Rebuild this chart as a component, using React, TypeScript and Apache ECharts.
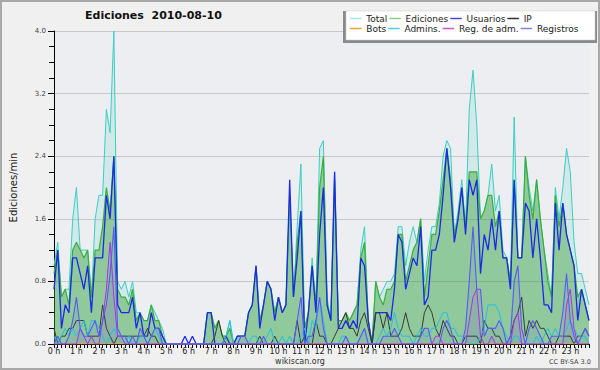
import React, { useEffect, useRef } from 'react';
import * as echarts from 'echarts';

// 10-minute buckets (index 0 = 0:00, 143 = 23:50), values in edits/min
const hourLabels = ['0 h','1 h','2 h','3 h','4 h','5 h','6 h','7 h','8 h','9 h','10 h','11 h','12 h','13 h','14 h','15 h','16 h','17 h','18 h','19 h','20 h','21 h','22 h','23 h'];
const yTickValues = [0, 0.8, 1.6, 2.4, 3.2, 4.0];

const total = [
  1.0,1.3,0.6,0.7,0.7,1.6,2.0,1.2,1.2,1.2,0.6,1.6,
  1.9,1.9,3.0,2.7,4.0,0.8,0.7,0.8,0.6,0.8,0.4,0.4,
  0.3,0.3,0.5,0.4,0.3,0.2,0,0,0,0,0,0,
  0,0,0,0,0,0.4,0.4,0.2,0.3,0.1,0.1,0.3,
  0,0.1,0.1,0.1,0.4,0.5,1.0,0.3,0.5,0.8,0.7,0.4,
  0.6,0.4,0.5,1.9,0.6,1.5,2.3,0.2,0.4,1.1,0.5,2.5,
  2.6,0.6,0.3,2.2,0.3,0.3,0.4,0.3,0.4,0.5,1.2,1.5,
  0.3,0,0.8,0.6,0.7,0.8,0.8,0.9,1.5,1.5,1.0,1.3,
  1.5,1.3,1.6,0.8,1.2,1.5,1.5,1.8,2.4,2.6,2.5,1.4,
  1.7,2.1,1.5,3.0,3.5,2.8,1.6,1.7,1.9,2.3,1.7,1.9,
  1.2,1.1,0.8,2.9,1.1,1.1,2.4,2.0,1.7,2.1,1.6,1.2,
  0.9,0.6,2.0,1.6,2.0,2.5,2.2,1.3,0.9,0.9,0.7,0.5,
];
const ediciones = [
  0.9,1.2,0.6,0.7,0.5,1.2,1.3,1.2,1.1,1.2,0.6,1.2,
  1.2,1.5,2.0,1.7,2.4,0.7,0.6,0.6,0.5,0.7,0.3,0.4,
  0.3,0.3,0.5,0.3,0.3,0.1,0,0,0,0,0,0,
  0,0,0,0,0,0.4,0.4,0.2,0.3,0.1,0.1,0.2,
  0,0.1,0.1,0.1,0.4,0.5,1.0,0.3,0.5,0.8,0.7,0.4,
  0.6,0.4,0.5,1.9,0.6,1.3,1.7,0.2,0.4,1.0,0.5,2.0,
  2.4,0.5,0.3,2.1,0.3,0.3,0.4,0.3,0.4,0.5,1.1,1.3,
  0.3,0,0.8,0.6,0.5,0.7,0.7,0.8,1.4,1.4,0.8,1.0,
  1.2,1.3,1.6,0.6,1.0,1.4,1.4,1.7,2.1,2.5,2.1,1.4,
  1.6,2.0,1.5,2.2,2.2,2.2,1.6,1.7,1.9,1.9,1.5,1.7,
  1.1,1.1,0.8,2.1,1.1,1.1,2.4,1.9,1.6,2.1,1.6,1.2,
  0.8,0.6,1.9,1.5,1.8,1.4,1.2,1.0,0.6,0.7,0.5,0.3,
];
const usuarios = [
  0.7,1.2,0.2,0.5,0.4,1.1,1.1,0.9,0.7,1.0,0.4,1.1,
  1.1,1.1,1.9,1.6,2.4,0.5,0.4,0.4,0.4,0.6,0.2,0.4,
  0.1,0.1,0.4,0.2,0.2,0.1,0,0,0,0,0,0.1,
  0,0.1,0,0,0,0.4,0.4,0,0,0,0.1,0,
  0,0.1,0.1,0.1,0.4,0.5,1.0,0.2,0.5,0.8,0.7,0.3,
  0.6,0.4,0.5,2.1,0.6,1.1,1.7,0,0.4,1.0,0.4,1.4,
  2.0,0.5,0.3,2.2,0.2,0.2,0.3,0.2,0.3,0.2,1.1,1.0,
  0.3,0,0.4,0.4,0.4,0.4,0.3,0.7,1.4,1.3,0.7,0.9,
  1.1,1.0,1.5,0.5,0.6,1.2,1.2,1.4,1.9,2.5,2.0,1.3,
  1.6,2.0,1.4,2.1,1.9,2.1,0.9,1.4,1.2,1.6,1.2,1.7,
  1.1,1.1,0.7,2.1,1.1,1.1,1.8,1.7,1.1,1.6,1.1,0.5,
  0.5,0.4,1.8,1.2,1.8,1.4,1.2,1.0,0.3,0.7,0.5,0.3,
];
const ip = [
  0.2,0,0.1,0.1,0.2,0.2,0.3,0.3,0.3,0.1,0.1,0.1,
  0.1,0.5,0.2,0.1,0,0.1,0.1,0.1,0.1,0.1,0.1,0.1,
  0.1,0.2,0.1,0.1,0,0,0,0,0,0,0,0,
  0,0,0,0,0,0,0,0.1,0.3,0.1,0,0,
  0,0,0,0,0,0,0,0.1,0,0,0,0.1,
  0,0,0,0,0,0.3,0,0.1,0,0,0.3,0.1,
  0.1,0,0,0.1,0.2,0.3,0.4,0.2,0.2,0.1,0.3,0.4,
  0.2,0,0.4,0.4,0.2,0.4,0.1,0.1,0.1,0.2,0.4,0.2,
  0.1,0.1,0.1,0.4,0.5,0.4,0.2,0.1,0.3,0.2,0.1,0.1,
  0,0,0.1,0.1,0.1,0.1,0,0.3,0.2,0.2,0.1,0.1,
  0,0,0.1,0.3,0.4,0.6,0.1,0.3,0.2,0.3,0.2,0.2,
  0.1,0,0,0.1,0.1,0.1,0.1,0,0.1,0.1,0.2,0.1,
];
const bots = [
  0,0,0,0,0,0,0,0,0,0,0,0,
  0,0,0,0,0,0,0,0,0,0,0,0,
  0,0,0,0,0,0,0,0,0,0,0,0,
  0,0,0,0,0,0,0,0,0,0,0,0,
  0,0,0,0,0,0,0,0,0,0,0,0,
  0,0,0,0,0,0,0,0,0,0,0,0,
  0,0,0,0,0,0,0,0,0,0,0,0,
  0,0,0,0,0,0,0,0,0,0,0,0,
  0,0,0,0,0,0,0,0,0,0,0,0,
  0,0,0,0,0,0,0,0,0,0,0,0,
  0,0,0,0,0,0,0,0,0,0,0,0,
  0,0,0,0,0,0,0,0,0,0,0,0,
];
const admins = [
  0.1,0,0.1,0.2,0.1,0.2,0.1,0.2,0.3,0.1,0.3,0.3,
  0.2,0.1,0,0.1,0.2,0.1,0.1,0,0.1,0,0,0.1,
  0.1,0,0.1,0.2,0.1,0,0,0,0,0,0,0,
  0,0,0,0,0,0,0,0,0,0,0.1,0.3,
  0,0,0,0,0,0.1,0.1,0,0,0.1,0.2,0,
  0,0.1,0,0.1,0,0,0.1,0.2,0,0.3,0.2,0.6,
  0.3,0,0,0,0,0.1,0.1,0,0,0,0.1,0.2,
  0,0,0,0.1,0.2,0.1,0.2,0.4,0.2,0.1,0.1,0.1,
  0,0.1,0.2,0.1,0.1,0.2,0.2,0.3,0.4,0.4,0.2,0.2,
  0.1,0.1,0.1,0,0,0,0.1,0.2,0.5,0.5,0.5,0.4,
  0.2,0.1,0,0.1,0.1,0,0,0,0,0.1,0,0.1,
  0.2,0.1,0.2,0.1,0.1,0.2,0.3,0.2,0.1,0.1,0.1,0,
];
const regAdm = [
  0,0,0,0,0,0,0,0.2,0.1,0,0.1,0,
  0,0.3,0.7,1.3,0.6,0.1,0.1,0,0,0,0,0,
  0,0,0,0,0,0,0,0,0,0,0,0,
  0,0,0,0,0,0,0,0,0,0,0,0,
  0,0,0,0,0,0,0,0,0,0,0,0,
  0,0,0,0,0,0,0,0,0,0,0,0,
  0,0,0,0,0,0,0,0,0,0,0,0,
  0,0,0,0,0,0,0,0,0,0,0,0,
  0,0,0,0,0,0,0.1,0.1,0,0,0,0,
  0,0,0,0.3,0.6,0.7,0.1,0,0,0.1,0,0,
  0,0,0,0.3,0.4,0,0,0,0,0,0,0,
  0,0,0,0,0,0.5,0.7,0.2,0,0,0,0,
];
const registros = [
  0,0.1,0,0,0.1,0.3,0.6,0.2,0.1,0.1,0.2,0.3,
  0.1,0.3,0.5,0.9,1.5,0.2,0.1,0.1,0,0.1,0,0.2,
  0.1,0,0.1,0.2,0.2,0,0,0,0,0,0,0,
  0,0,0,0,0,0,0,0,0,0,0,0,
  0,0,0.1,0.1,0,0,0,0,0.1,0,0,0,
  0,0,0,0,0,0.3,0.6,0,0.1,0.1,0.3,0.6,
  0.2,0,0,0,0,0,0.1,0,0,0,0.1,0.2,
  0,0,0,0,0.1,0.1,0.1,0.2,0.1,0,0,0,
  0,0,0.1,0.2,0.2,0,0,0,0.2,0.3,0.2,0,
  0,0,0.2,0.8,1.5,0.7,0.7,0.1,0.2,0.2,0.2,0.3,
  0.2,0,0.1,0.8,1.0,0.2,0,0.2,0.3,0.2,0.1,0,
  0,0.1,0.1,0.1,0.4,0.9,0.3,0.1,0,0.1,0.2,0.1,
];

const FONT = 'DejaVu Sans';

const seriesDefs = [
  { name: 'Total', data: total, color: '#3ccfc0', width: 1, area: 'rgba(60,205,190,0.15)', legend: '#a6e6dc', col: 24 },
  { name: 'Ediciones', data: ediciones, color: '#3aae3a', width: 1.2, area: 'rgba(40,150,30,0.38)', legend: '#8ccf8c', col: 43 },
  { name: 'Usuarios', data: usuarios, color: '#1a2ae6', width: 1.3, area: null, legend: '#4848e0', col: 59 },
  { name: 'IP', data: ip, color: '#3a3a3a', width: 1, area: null, legend: '#333333', col: 40 },
  { name: 'Bots', data: bots, color: '#f5a030', width: 1, area: null, legend: '#f5a030', col: 24 },
  { name: 'Admins.', data: admins, color: '#22c0e0', width: 1, area: null, legend: '#50c8e6', col: 43 },
  { name: 'Reg. de adm.', data: regAdm, color: '#b030e8', width: 1, area: 'rgba(176,48,232,0.08)', legend: '#d050e8', col: 59 },
  { name: 'Registros', data: registros, color: '#5a5af5', width: 1.1, area: 'rgba(90,90,245,0.1)', legend: '#8080f0', col: 45 },
];

const legendItem = (d: any) => ({
  name: d.name,
  icon: 'rect',
  itemStyle: { color: d.legend, borderColor: d.legend, borderWidth: 0.5 },
  textStyle: { width: d.col },
});

const legendBase = {
  left: 350,
  orient: 'horizontal',
  padding: 0,
  itemGap: 2,
  itemWidth: 11,
  itemHeight: 1,
  selectedMode: false,
  z: 20,
  textStyle: { fontSize: 9, color: '#222', fontFamily: FONT },
};

function buildOption(): any {
  return {
    animation: false,
    backgroundColor: '#f0f0f0',
    textStyle: { fontFamily: FONT },
    title: {
      text: 'Ediciones  2010-08-10',
      left: 85,
      top: 10,
      padding: 0,
      textStyle: { fontSize: 11, fontWeight: 'bold', color: '#111', fontFamily: FONT },
    },
    legend: [
      { ...legendBase, top: 14, data: seriesDefs.slice(0, 4).map(legendItem) },
      { ...legendBase, top: 24, data: seriesDefs.slice(4, 8).map(legendItem) },
    ],
    grid: {
      left: 46, right: 11, top: 31, bottom: 26,
      show: true, backgroundColor: '#eceef1', borderWidth: 0,
    },
    xAxis: {
      type: 'value',
      min: 0,
      max: 143,
      interval: 6,
      z: 3,
      axisLine: { show: true, onZero: false, lineStyle: { color: '#000', width: 1 } },
      axisTick: { show: true, length: 4, lineStyle: { color: '#000' } },
      minorTick: { show: true, splitNumber: 6, length: 4, lineStyle: { color: '#000' } },
      axisLabel: {
        fontSize: 8, color: '#222', margin: 3, fontFamily: FONT,
        formatter: (v: number) => (v % 6 === 0 && v / 6 < hourLabels.length ? hourLabels[v / 6] : ''),
      },
      splitLine: { show: false },
    },
    yAxis: {
      type: 'value',
      min: yTickValues[0],
      max: yTickValues[yTickValues.length - 1],
      interval: yTickValues[1] - yTickValues[0],
      name: 'Ediciones/min',
      nameLocation: 'middle',
      nameGap: 36,
      nameTextStyle: { fontSize: 10, color: '#222', fontFamily: FONT },
      axisLine: { show: true, lineStyle: { color: '#000', width: 1 } },
      axisTick: { show: true, length: 6, lineStyle: { color: '#000' } },
      minorTick: { show: true, splitNumber: 4, length: 5, lineStyle: { color: '#000' } },
      axisLabel: { fontSize: 7, color: '#444', margin: 8, fontFamily: FONT, formatter: (v: number) => v.toFixed(1) },
      splitLine: { show: true, lineStyle: { color: '#c8c8c8', width: 1 } },
    },
    series: seriesDefs.map((d) => ({
      name: d.name,
      type: 'line',
      data: d.data.map((v, i) => [i, v]),
      showSymbol: false,
      symbol: 'none',
      silent: true,
      color: d.color,
      lineStyle: { color: d.color, width: d.width },
      areaStyle: d.area ? { color: d.area, opacity: 1 } : undefined,
      emphasis: { disabled: true },
    })),
    graphic: [
      { type: 'rect', z: 10, shape: { x: 343, y: 11, width: 254, height: 32 }, style: { fill: '#8a8a8a' } },
      { type: 'rect', z: 11, shape: { x: 346, y: 11, width: 249, height: 29 }, style: { fill: '#ffffff', stroke: '#c8c8c8', lineWidth: 0.5 } },
      {
        type: 'text', z: 12, x: 300, y: 361,
        style: { text: 'wikiscan.org', fill: '#333', font: `8px "${FONT}"`, align: 'center', verticalAlign: 'middle', textAlign: 'center', textVerticalAlign: 'middle' },
      },
      {
        type: 'text', z: 12, x: 570, y: 362,
        style: { text: 'CC BY-SA 3.0', fill: '#444', font: `6.5px "${FONT}"`, align: 'center', verticalAlign: 'middle', textAlign: 'center', textVerticalAlign: 'middle' },
      },
      { type: 'rect', z: 30, shape: { x: 1, y: 1, width: 598, height: 368 }, style: { fill: 'none', stroke: '#a8a8a8', lineWidth: 2 } },
    ],
  };
}

export default function App() {
  const ref = useRef<HTMLDivElement>(null);
  useEffect(() => {
    if (!ref.current) return;
    const chart = echarts.init(ref.current, null, { renderer: 'svg' });
    chart.setOption(buildOption());
    return () => chart.dispose();
  }, []);
  return <div ref={ref} style={{ position: 'absolute', left: 0, top: 0, width: 600, height: 370 }} />;
}
